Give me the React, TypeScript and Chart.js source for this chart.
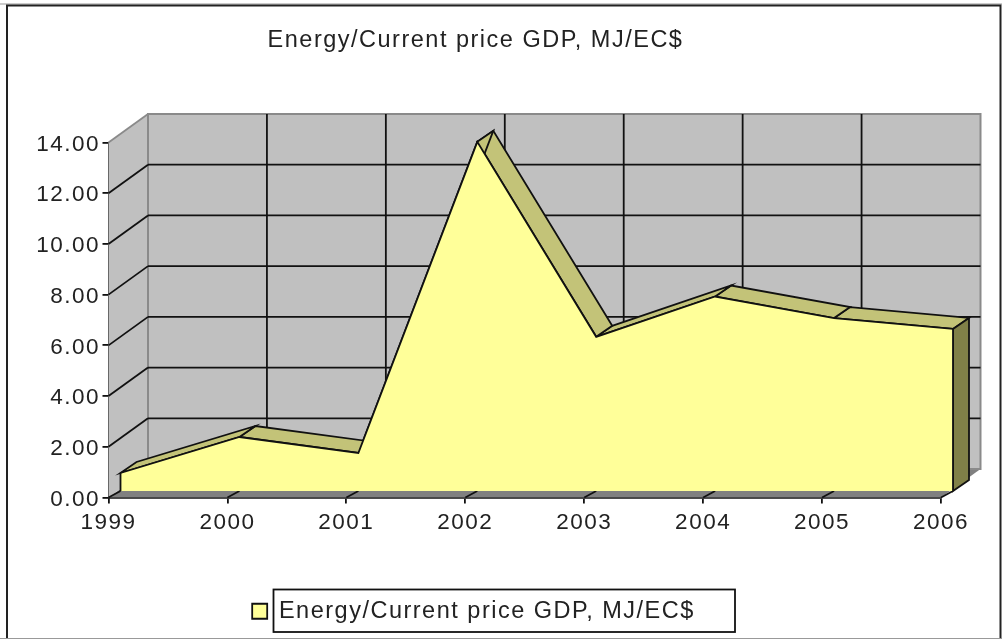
import React, { useEffect, useRef } from "react";
import { Chart, registerables } from "chart.js";

Chart.register(...registerables);

const TITLE = "Energy/Current price GDP, MJ/EC$";
const categories = ["1999", "2000", "2001", "2002", "2003", "2004", "2005", "2006"];
const energyValues = [0.71, 2.13, 1.5, 13.77, 6.08, 7.67, 6.82, 6.39];
const yTicks = [0, 2, 4, 6, 8, 10, 12, 14];

const FONT = "'Liberation Sans', Arial, sans-serif";
const SPACING = "1.5px";
const WALL_DX = 39.5, WALL_DY = -28.5;
const FACE_DX = 12, FACE_DY = -6.5;
const RIDGE_DX = 16, RIDGE_DY = -11;
const LEGEND_H = 41.5, BOTTOM_PAD = 6;
const LW = 1.8;

const depthPlugin = {
  id: "depth3d",
  beforeLayout(chart: any) {
    chart.ctx.letterSpacing = SPACING;
  },
  afterLayout(chart: any) {
    const t = chart.titleBlock, l = chart.legend;
    if (t) { t.left += 5; t.right += 5; }
    if (l) { l.left += 3; l.right += 3; }
  },
  beforeDraw(chart: any) {
    const c = chart.ctx;
    c.letterSpacing = SPACING;
    c.save();
    c.fillStyle = "#fff";
    c.fillRect(0, 0, chart.width, chart.height);
    c.strokeStyle = "#999";
    c.lineWidth = 1;
    c.beginPath(); c.moveTo(0, 638.5); c.lineTo(1002, 638.5); c.stroke();
    c.beginPath(); c.moveTo(0, 4); c.lineTo(1002, 4); c.stroke();
    c.strokeStyle = "#222";
    c.lineWidth = 2;
    c.beginPath();
    c.moveTo(7, 638);
    c.lineTo(7, 5.5);
    c.lineTo(1000.5, 5.5);
    c.lineTo(1000.5, 638);
    c.stroke();
    c.restore();
  },
  beforeDatasetsDraw(chart: any) {
    const c = chart.ctx;
    const x = chart.scales.x, y = chart.scales.y;
    const x0 = x.getPixelForValue(0), x1 = x.getPixelForValue(categories.length - 1);
    const yB = y.getPixelForValue(0), yT = y.getPixelForValue(14);
    const poly = (pts: number[][], fill?: string, stroke?: string, lw = 1) => {
      c.beginPath();
      pts.forEach((p, i) => (i ? c.lineTo(p[0], p[1]) : c.moveTo(p[0], p[1])));
      c.closePath();
      if (fill) { c.fillStyle = fill; c.fill(); }
      if (stroke) { c.strokeStyle = stroke; c.lineWidth = lw; c.stroke(); }
    };
    const line = (a: number, b: number, e: number, f: number, color: string, lw = LW) => {
      c.beginPath(); c.moveTo(a, b); c.lineTo(e, f);
      c.strokeStyle = color; c.lineWidth = lw; c.stroke();
    };
    c.save();
    // floor
    poly([[x0, yB], [x1, yB], [x1 + WALL_DX, yB + WALL_DY], [x0 + WALL_DX, yB + WALL_DY]], "#808080");
    // left wall and back wall
    poly([[x0, yB], [x0, yT], [x0 + WALL_DX, yT + WALL_DY], [x0 + WALL_DX, yB + WALL_DY]], "#c0c0c0");
    poly([[x0 + WALL_DX, yT + WALL_DY], [x1 + WALL_DX, yT + WALL_DY], [x1 + WALL_DX, yB + WALL_DY], [x0 + WALL_DX, yB + WALL_DY]], "#c0c0c0", "#8a8a8a", 2);
    line(x0, yT, x0 + WALL_DX, yT + WALL_DY, "#8a8a8a");
    yTicks.forEach((v) => {
      if (v === 0 || v === 14) return;
      const py = y.getPixelForValue(v);
      line(x0, py, x0 + WALL_DX, py + WALL_DY, "#111");
      line(x0 + WALL_DX, py + WALL_DY, x1 + WALL_DX, py + WALL_DY, "#111");
    });
    categories.forEach((_, i) => {
      const px = x.getPixelForValue(i);
      if (i > 0 && i < categories.length - 1) {
        line(px + WALL_DX, yT + WALL_DY, px + WALL_DX, yB + WALL_DY, "#111");
      }
      line(px, yB, px + FACE_DX, yB + FACE_DY, "#111");
    });
    // ridge and end cap, from the dataset's own points
    const pts = chart.getDatasetMeta(0).data;
    const F = (p: any) => [p.x + FACE_DX, p.y + FACE_DY];
    const B = (p: any) => [p.x + FACE_DX + RIDGE_DX, p.y + FACE_DY + RIDGE_DY];
    for (let i = pts.length - 2; i >= 0; i--) {
      poly([F(pts[i]), F(pts[i + 1]), B(pts[i + 1]), B(pts[i])], "#c3c378", "#111", LW);
    }
    const last = pts[pts.length - 1];
    const baseF = [x1 + FACE_DX, yB + FACE_DY];
    const baseB = [baseF[0] + RIDGE_DX, baseF[1] + RIDGE_DY];
    poly([F(last), B(last), baseB, baseF], "#808048", "#111", LW);
    c.restore();
    // shift the dataset's own drawing to the front face of the 3-D area
    c.save();
    c.translate(FACE_DX, FACE_DY);
  },
  afterDatasetsDraw(chart: any) {
    const c = chart.ctx;
    const pts = chart.getDatasetMeta(0).data;
    const yB = chart.scales.y.getPixelForValue(0);
    c.strokeStyle = "#111";
    c.lineWidth = LW;
    [pts[0], pts[pts.length - 1]].forEach((p: any) => {
      c.beginPath(); c.moveTo(p.x, p.y); c.lineTo(p.x, yB); c.stroke();
    });
    c.restore();
  },
  afterDraw(chart: any) {
    const l = chart.legend;
    if (!l || !l.legendHitBoxes.length) return;
    const c = chart.ctx;
    c.save();
    c.strokeStyle = "#111";
    c.lineWidth = LW;
    c.strokeRect(273.5, 589.5, 461.5, 42.5);
    c.restore();
  },
};

export default function App() {
  const ref = useRef<HTMLCanvasElement>(null);
  useEffect(() => {
    document.body.style.margin = "0";
    const chart = new Chart(ref.current!, {
      type: "line",
      data: {
        labels: categories,
        datasets: [
          {
            label: TITLE,
            data: energyValues,
            borderColor: "#111",
            borderWidth: LW,
            backgroundColor: "#ffff99",
            fill: "origin",
            tension: 0,
            pointRadius: 0,
            clip: false,
          },
        ],
      },
      options: {
        responsive: false,
        animation: false,
        layout: { padding: { top: 0, left: 0, right: 61, bottom: BOTTOM_PAD } },
        plugins: {
          tooltip: { enabled: false },
          title: {
            display: true,
            text: TITLE,
            color: "#222",
            font: { family: FONT, size: 23.5, weight: "normal" },
            padding: { top: 26, bottom: 88.3 },
          },
          legend: {
            display: true,
            position: "bottom",
            labels: {
              color: "#222",
              font: { family: FONT, size: 23.5 },
              boxWidth: 15,
              boxHeight: 15,
              padding: 8,
            },
          },
        },
        scales: {
          x: {
            type: "category",
            offset: false,
            afterFit: (s: any) => { s.height = 639 - 497.5 - LEGEND_H - BOTTOM_PAD; },
            grid: { drawOnChartArea: false, drawTicks: true, tickLength: 6, color: "#111", lineWidth: LW },
            border: { color: "#111", width: LW },
            ticks: { color: "#222", font: { family: FONT, size: 22.5 }, padding: 6, maxRotation: 0, autoSkip: false },
          },
          y: {
            min: 0,
            max: 14,
            afterFit: (s: any) => { s.width = 108.5; },
            grid: { drawOnChartArea: false, drawTicks: true, tickLength: 6, color: "#111", lineWidth: LW },
            border: { color: "#111", width: LW },
            ticks: { stepSize: 2, color: "#222", font: { family: FONT, size: 22.5 }, padding: 2.5, labelOffset: 2, callback: (v: any) => Number(v).toFixed(2) },
          },
        },
      },
      plugins: [depthPlugin],
    } as any);
    return () => chart.destroy();
  }, []);
  return (
    <canvas
      ref={ref}
      width={1002}
      height={639}
      style={{ display: "block", width: 1002, height: 639, filter: "blur(0.7px)" }}
    />
  );
}
